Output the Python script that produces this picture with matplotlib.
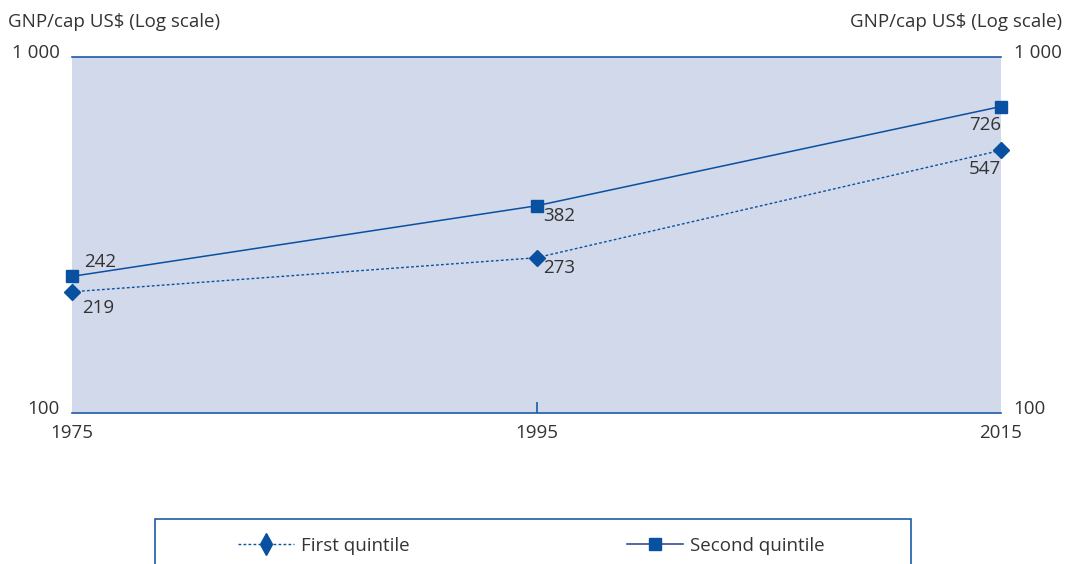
import matplotlib
matplotlib.use("Agg")
import matplotlib.pyplot as plt
from matplotlib.patches import Rectangle
from matplotlib.lines import Line2D
from matplotlib.transforms import ScaledTranslation

# Data
years = [1975, 1995, 2015]
first_quintile = [219, 273, 547]
second_quintile = [242, 382, 726]
y_ticks = [100, 1000]
y_tick_labels = ["100", "1 000"]
series_names = ["First quintile", "Second quintile"]

BLUE = "#0a50a0"
LINE = "#1f5aa6"
BG = "#d2d9ea"
TXT = "#333333"
FS = 13.5

plt.rcParams["font.family"] = ["Open Sans", "DejaVu Sans"]

fig = plt.figure(figsize=(10.66, 5.64), dpi=100)
W, H = 1066, 564
ax = fig.add_axes([72 / W, 1 - 413 / H, (1001 - 72) / W, (413 - 57) / H])
ax.set_facecolor(BG)
ax.set_yscale("log")
ax.set_xlim(years[0], years[-1])
ax.set_ylim(100, 1000)

for s in ("left", "right"):
    ax.spines[s].set_visible(False)
for s in ("top", "bottom"):
    ax.spines[s].set_color(LINE)
    ax.spines[s].set_linewidth(1.2)

ax.plot(years, first_quintile, color=BLUE, lw=1.0, ls=(0, (2, 1.6)),
        marker="D", ms=8, mfc=BLUE, mec=BLUE, clip_on=False, zorder=3)
ax.plot(years, second_quintile, color=BLUE, lw=1.1, ls="-",
        marker="s", ms=8, mfc=BLUE, mec=BLUE, clip_on=False, zorder=3)

# Value labels
offsets_first = [(7, -5, "left", "top"), (5, -1, "left", "top"), (0, -7, "right", "top")]
offsets_second = [(9, 4, "left", "bottom"), (5, -1, "left", "top"), (0, -7, "right", "top")]
for x, v, (dx, dy, ha, va) in zip(years, first_quintile, offsets_first):
    ax.annotate(str(v), (x, v), xytext=(dx, dy), textcoords="offset points",
                ha=ha, va=va, fontsize=FS, color=TXT, annotation_clip=False)
for x, v, (dx, dy, ha, va) in zip(years, second_quintile, offsets_second):
    ax.annotate(str(v), (x, v), xytext=(dx, dy), textcoords="offset points",
                ha=ha, va=va, fontsize=FS, color=TXT, annotation_clip=False)

# Axes ticks
ax.set_xticks(years)
ax.set_xticklabels([str(y) for y in years])
ax.set_yticks(y_ticks)
ax.set_yticklabels(y_tick_labels)
ax.yaxis.set_minor_locator(matplotlib.ticker.NullLocator())
ax.tick_params(axis="y", length=0, labelsize=FS, labelcolor=TXT,
               labelleft=True, labelright=True, pad=9)
ax.tick_params(axis="x", direction="in", length=8, width=1.2, color=LINE,
               labelsize=FS, labelcolor=TXT, pad=8)
xt = ax.xaxis.get_major_ticks()
xt[0].tick1line.set_visible(False)
xt[-1].tick1line.set_visible(False)
for t in ax.yaxis.get_major_ticks():
    for lbl in (t.label1, t.label2):
        lbl.set_transform(lbl.get_transform() + ScaledTranslation(0, 4 / 72, fig.dpi_scale_trans))

fig.text(8 / W, 1 - 22 / H, "GNP/cap US$ (Log scale)", fontsize=FS,
         color=TXT, ha="left", va="center")
fig.text(1062 / W, 1 - 22 / H, "GNP/cap US$ (Log scale)", fontsize=FS,
         color=TXT, ha="right", va="center")

# Legend box
fig.add_artist(Rectangle((155 / W, -0.05), (911 - 155) / W, 0.05 + 1 - 519 / H,
                         transform=fig.transFigure, fill=False,
                         edgecolor=LINE, lw=1.2))
h1 = Line2D([], [], color=BLUE, lw=1.0, ls=(0, (2, 1.6)), marker="d", ms=11,
            mfc=BLUE, mec=BLUE)
h2 = Line2D([], [], color="#2a3a8c", lw=1.1, marker="s", ms=8, mfc=BLUE, mec=BLUE)
for h, name, xl in ((h1, series_names[0], 238), (h2, series_names[1], 627)):
    fig.legend([h], [name], loc="center left",
               bbox_to_anchor=(xl / W, 1 - 546 / H), frameon=False,
               handlelength=3.0, handletextpad=0.35, fontsize=FS,
               labelcolor=TXT, borderpad=0, borderaxespad=0)

fig.savefig("out.png", dpi=100)
